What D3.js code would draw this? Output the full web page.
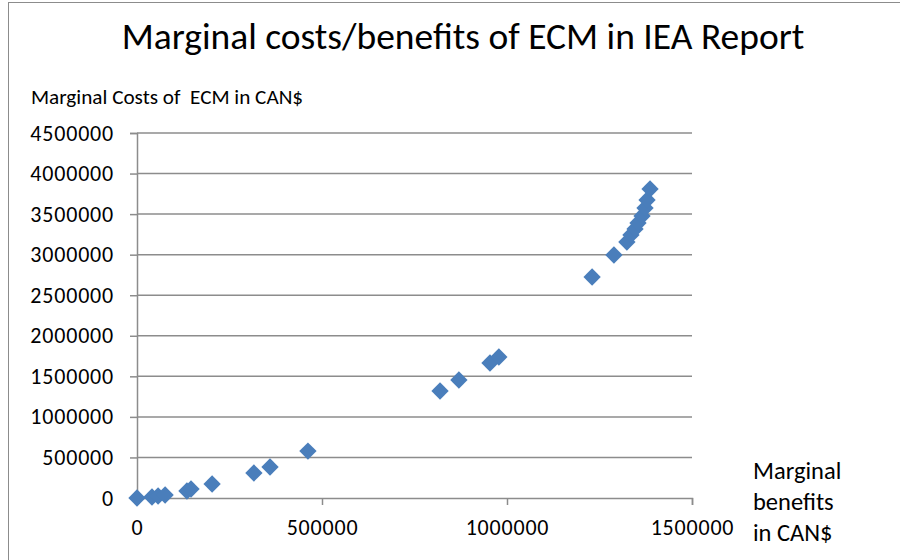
<!DOCTYPE html>
<html>
<head>
<meta charset="utf-8">
<script src="https://cdn.jsdelivr.net/npm/d3@7"></script>
<style>
  html, body { margin: 0; padding: 0; background: #fff; }
  svg text { font-family: Carlito, Lato, "Liberation Sans", sans-serif; fill: #000; white-space: pre; }
</style>
</head>
<body>
<svg id="chart" width="900" height="560"></svg>
<script>
// Data
const benefits = [0, 40500, 57000, 76000, 135000, 146000, 203000, 316000, 359500, 462000,
  819000, 870000, 954000, 978000, 1230000, 1289000, 1324000, 1335000, 1346000, 1354000,
  1365000, 1373000, 1378500, 1386600];
const costs = [0, 12000, 25000, 37000, 86000, 111000, 173000, 308000, 382000, 579000,
  1319000, 1455000, 1664000, 1738000, 2725000, 2996000, 3156000, 3243000, 3317000, 3390000,
  3477000, 3575000, 3674000, 3810000];
const xTicks = [0, 500000, 1000000, 1500000];
const yTicks = [0, 500000, 1000000, 1500000, 2000000, 2500000, 3000000, 3500000, 4000000, 4500000];
const titleText = "Marginal costs/benefits of ECM in IEA Report";
const yTitle = "Marginal Costs of  ECM in CAN$";
const xTitleLines = ["Marginal", "benefits", "in CAN$"];

const svg = d3.select("#chart");

// outer chart border
svg.append("rect").attr("x", 8.5).attr("y", 2.5).attr("width", 900).attr("height", 580)
  .attr("fill", "none").attr("stroke", "#8c8c8c").attr("stroke-width", 1);

const x = d3.scaleLinear().domain([0, 1500000]).range([137, 692]);
const y = d3.scaleLinear().domain([0, 4500000]).range([498, 133]);

// gridlines
svg.append("g").selectAll("line").data(yTicks.filter(d => d > 0)).join("line")
  .attr("x1", x(0)).attr("x2", x(1500000))
  .attr("y1", d => y(d)).attr("y2", d => y(d))
  .attr("stroke", "#8c8c8c").attr("stroke-width", 1.5);

// y axis
const yAxis = svg.append("g").attr("transform", `translate(${x(0)},0)`)
  .call(d3.axisLeft(y).tickValues(yTicks).tickFormat(d3.format("d")).tickSize(7).tickPadding(16));
yAxis.select(".domain").attr("stroke", "#8c8c8c").attr("stroke-width", 1.5);
yAxis.selectAll(".tick line").attr("stroke", "#8c8c8c").attr("stroke-width", 1.5);
yAxis.selectAll(".tick text").style("font-size", "22px").style("letter-spacing", "0.8px").attr("fill", "#000");

// x axis
const xAxis = svg.append("g").attr("transform", `translate(0,${y(0)})`)
  .call(d3.axisBottom(x).tickValues(xTicks).tickFormat(d3.format("d")).tickSize(7).tickPadding(14));
xAxis.select(".domain").attr("stroke", "#8c8c8c").attr("stroke-width", 1.5);
xAxis.selectAll(".tick line").attr("stroke", "#8c8c8c").attr("stroke-width", 1.5);
xAxis.selectAll(".tick text").style("font-size", "22px").style("letter-spacing", "0.8px").attr("fill", "#000");

// points (diamonds)
const diamond = d3.symbol().type(d3.symbolSquare).size(150);
svg.append("g").selectAll("path").data(benefits.map((b, i) => [b, costs[i]])).join("path")
  .attr("d", diamond)
  .attr("transform", d => `translate(${x(d[0])},${y(d[1])}) rotate(45)`)
  .attr("fill", "#4a7ebb");

// title
svg.append("text").attr("x", 463).attr("y", 49).attr("text-anchor", "middle")
  .style("font-size", "37.5px").text(titleText);

// y-axis title
svg.append("text").attr("x", 31).attr("y", 104)
  .style("font-size", "21.2px").text(yTitle);

// x-axis title
svg.append("g").selectAll("text").data(xTitleLines).join("text")
  .attr("x", 753).attr("y", (d, i) => 479 + i * 31)
  .style("font-size", "24.5px").text(d => d);
</script>
</body>
</html>
